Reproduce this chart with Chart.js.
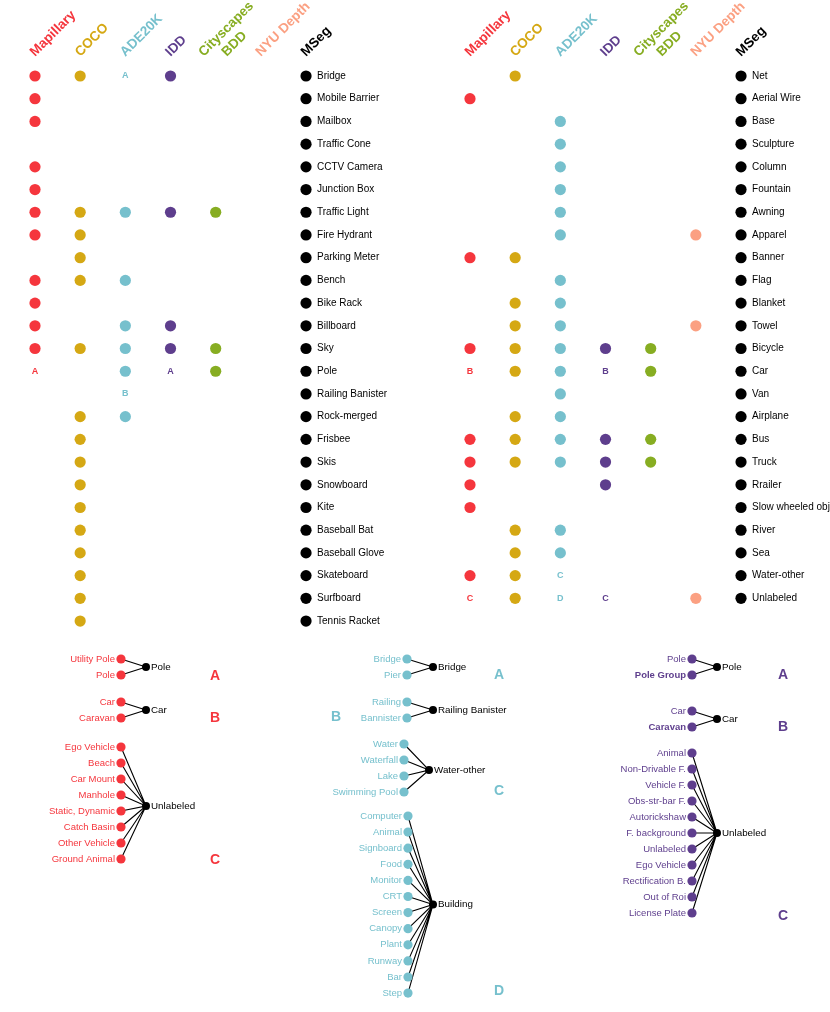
<!DOCTYPE html>
<html>
<head>
<meta charset="utf-8">
<script src="https://cdn.jsdelivr.net/npm/chart.js@4.4.1/dist/chart.umd.min.js"></script>
<style>
  html, body { margin: 0; padding: 0; background: #fff; }
  canvas { display: block; }
</style>
</head>
<body>
<canvas id="mseg" width="830" height="1012"></canvas>
<script>
//* MSeg taxonomy: which source dataset classes go into each MSeg class */

// columns, left to right (MSeg is the last one)
const sourceNames = ['Mapillary', 'COCO', 'ADE20K', 'IDD', 'Cityscapes\nBDD', 'NYU Depth', 'MSeg']
const sourceColors = ['#f5363d', '#d5a814', '#76c0cd', '#5e3e8d', '#87ad22', '#fba082', '#000000']

// MSeg classes in the two panels
const leftClasses = ['Bridge', 'Mobile Barrier', 'Mailbox', 'Traffic Cone', 'CCTV Camera', 'Junction Box',
  'Traffic Light', 'Fire Hydrant', 'Parking Meter', 'Bench', 'Bike Rack', 'Billboard', 'Sky', 'Pole',
  'Railing Banister', 'Rock-merged', 'Frisbee', 'Skis', 'Snowboard', 'Kite', 'Baseball Bat',
  'Baseball Glove', 'Skateboard', 'Surfboard', 'Tennis Racket']
const rightClasses = ['Net', 'Aerial Wire', 'Base', 'Sculpture', 'Column', 'Fountain', 'Awning', 'Apparel',
  'Banner', 'Flag', 'Blanket', 'Towel', 'Bicycle', 'Car', 'Van', 'Airplane', 'Bus', 'Truck', 'Rrailer',
  'Slow wheeled obj', 'River', 'Sea', 'Water-other', 'Unlabeled']

// 1 = class present, letter = merged class (see trees below), 0 = absent
// order: Mapillary, COCO, ADE20K, IDD, Cityscapes/BDD, NYU Depth
const leftMembers = [
  [1, 1, 'A', 1, 0, 0], // Bridge
  [1, 0, 0, 0, 0, 0],
  [1, 0, 0, 0, 0, 0],
  [0, 0, 0, 0, 0, 0],
  [1, 0, 0, 0, 0, 0],
  [1, 0, 0, 0, 0, 0],
  [1, 1, 1, 1, 1, 0], // Traffic Light
  [1, 1, 0, 0, 0, 0],
  [0, 1, 0, 0, 0, 0],
  [1, 1, 1, 0, 0, 0], // Bench
  [1, 0, 0, 0, 0, 0],
  [1, 0, 1, 1, 0, 0],
  [1, 1, 1, 1, 1, 0], // Sky
  ['A', 0, 1, 'A', 1, 0], // Pole
  [0, 0, 'B', 0, 0, 0],
  [0, 1, 1, 0, 0, 0],
  [0, 1, 0, 0, 0, 0], // Frisbee
  [0, 1, 0, 0, 0, 0],
  [0, 1, 0, 0, 0, 0],
  [0, 1, 0, 0, 0, 0],
  [0, 1, 0, 0, 0, 0],
  [0, 1, 0, 0, 0, 0],
  [0, 1, 0, 0, 0, 0],
  [0, 1, 0, 0, 0, 0],
  [0, 1, 0, 0, 0, 0] // Tennis Racket
]
const rightMembers = [
  [0, 1, 0, 0, 0, 0], // Net
  [1, 0, 0, 0, 0, 0],
  [0, 0, 1, 0, 0, 0],
  [0, 0, 1, 0, 0, 0],
  [0, 0, 1, 0, 0, 0],
  [0, 0, 1, 0, 0, 0],
  [0, 0, 1, 0, 0, 0], // Awning
  [0, 0, 1, 0, 0, 1],
  [1, 1, 0, 0, 0, 0],
  [0, 0, 1, 0, 0, 0],
  [0, 1, 1, 0, 0, 0],
  [0, 1, 1, 0, 0, 1], // Towel
  [1, 1, 1, 1, 1, 0],
  ['B', 1, 1, 'B', 1, 0], // Car
  [0, 0, 1, 0, 0, 0],
  [0, 1, 1, 0, 0, 0],
  [1, 1, 1, 1, 1, 0], // Bus
  [1, 1, 1, 1, 1, 0],
  [1, 0, 0, 1, 0, 0],
  [1, 0, 0, 0, 0, 0],
  [0, 1, 1, 0, 0, 0], // River
  [0, 1, 1, 0, 0, 0],
  [1, 1, 'C', 0, 0, 0],
  ['C', 1, 'D', 'C', 0, 1] // Unlabeled
]

// merge trees: source classes -> MSeg class
const mapillaryTargets = ['Pole', 'Car', 'Unlabeled']
const mapillarySources = [
  ['Utility Pole', 'Pole'],
  ['Car', 'Caravan'],
  ['Ego Vehicle', 'Beach', 'Car Mount', 'Manhole', 'Static, Dynamic', 'Catch Basin', 'Other Vehicle', 'Ground Animal']
]
const adeTargets = ['Bridge', 'Railing Banister', 'Water-other', 'Building']
const adeSources = [
  ['Bridge', 'Pier'],
  ['Railing', 'Bannister'],
  ['Water', 'Waterfall', 'Lake', 'Swimming Pool'],
  ['Computer', 'Animal', 'Signboard', 'Food', 'Monitor', 'CRT', 'Screen', 'Canopy', 'Plant', 'Runway', 'Bar', 'Step']
]
const iddTargets = ['Pole', 'Car', 'Unlabeled']
const iddSources = [
  ['Pole', 'Pole Group'],
  ['Car', 'Caravan'],
  ['Animal', 'Non-Drivable F.', 'Vehicle F.', 'Obs-str-bar F.', 'Autorickshaw', 'F. background', 'Unlabeled',
    'Ego Vehicle', 'Rectification B.', 'Out of Roi', 'License Plate']
]
const treeLetters = ['A', 'B', 'C', 'D']

// ---- layout (canvas units, y going down) ----
const panelX = [35, 470]
const colStep = 45.17
const rowTop = 76
const rowStep = 22.71
const headerY = 57
const boldSources = ['Pole Group', 'Caravan']

const trees = [
  { color: sourceColors[0], targets: mapillaryTargets, sources: mapillarySources,
    groups: [
      { top: 659, leafX: 121, nodeX: 146, letterX: 215, letterY: 676 },
      { top: 702, leafX: 121, nodeX: 146, letterX: 215, letterY: 718 },
      { top: 747, leafX: 121, nodeX: 146, letterX: 215, letterY: 860, nodeDy: 3 }
    ] },
  { color: sourceColors[2], targets: adeTargets, sources: adeSources,
    groups: [
      { top: 659, leafX: 407, nodeX: 433, letterX: 499, letterY: 675 },
      { top: 702, leafX: 407, nodeX: 433, letterX: 336, letterY: 717 },
      { top: 744, leafX: 404, nodeX: 429, letterX: 499, letterY: 791, nodeDy: 2 },
      { top: 816, leafX: 408, nodeX: 433, letterX: 499, letterY: 991, step: 16.1 }
    ] },
  { color: sourceColors[3], targets: iddTargets, sources: iddSources,
    groups: [
      { top: 659, leafX: 692, nodeX: 717, letterX: 783, letterY: 675 },
      { top: 711, leafX: 692, nodeX: 717, letterX: 783, letterY: 727 },
      { top: 753, leafX: 692, nodeX: 717, letterX: 783, letterY: 916 }
    ] }
]

const FONT = '"Liberation Sans", Arial, sans-serif'
let texts = []
let datasets = []

// matrix dots
let dotData = sourceNames.map(() => [])
const addPanel = (classes, members, p) => {
  classes.forEach((name, r) => {
    let y = rowTop + r * rowStep
    members[r].forEach((m, c) => {
      let x = panelX[p] + c * colStep
      if (m === 1) dotData[c].push({ x: x, y: y })
      else if (m) texts.push({ x: x, y: y, text: m, color: sourceColors[c], font: 'bold 9px ' + FONT, align: 'center' })
    })
    let mx = panelX[p] + 6 * colStep
    dotData[6].push({ x: mx, y: y })
    texts.push({ x: mx + 11, y: y, text: name, color: '#000', font: '10px ' + FONT, align: 'left' })
  })
  sourceNames.forEach((name, c) => {
    let lines = name.split('\n')
    let offs = lines.length > 1 ? [-12, 11] : [0]
    lines.forEach((line, i) => {
      texts.push({ x: panelX[p] + c * colStep + offs[i], y: headerY, text: line, color: sourceColors[c],
        font: 'bold 13.5px ' + FONT, align: 'left', rotate: -Math.PI / 4, baseline: 'alphabetic' })
    })
  })
}
addPanel(leftClasses, leftMembers, 0)
addPanel(rightClasses, rightMembers, 1)

sourceNames.forEach((name, c) => {
  datasets.push({ data: dotData[c], backgroundColor: sourceColors[c], pointRadius: 5.6, borderWidth: 0, order: 1 })
})

// trees
trees.forEach((t) => {
  let leaves = []
  let nodes = []
  t.sources.forEach((srcs, g) => {
    let lay = t.groups[g]
    let step = lay.step || 16
    let ys = srcs.map((s, i) => lay.top + i * step)
    let ny = (ys[0] + ys[ys.length - 1]) / 2 + (lay.nodeDy || 0)
    let edge = []
    srcs.forEach((s, i) => {
      leaves.push({ x: lay.leafX, y: ys[i] })
      edge.push({ x: lay.leafX, y: ys[i] }, { x: lay.nodeX, y: ny })
      texts.push({ x: lay.leafX - 6, y: ys[i], text: s, color: t.color,
        font: (boldSources.includes(s) && t.color === sourceColors[3] ? 'bold ' : '') + '9.5px ' + FONT, align: 'right' })
    })
    nodes.push({ x: lay.nodeX, y: ny })
    texts.push({ x: lay.nodeX + 5, y: ny, text: t.targets[g], color: '#000', font: '9.8px ' + FONT, align: 'left' })
    texts.push({ x: lay.letterX, y: lay.letterY, text: treeLetters[g], color: t.color, font: 'bold 14px ' + FONT, align: 'center' })
    datasets.push({ data: edge, showLine: true, borderColor: '#000', borderWidth: 1.1, pointRadius: 0, tension: 0, order: 3 })
  })
  datasets.push({ data: leaves, backgroundColor: t.color, pointRadius: 4.6, borderWidth: 0, order: 1 })
  datasets.push({ data: nodes, backgroundColor: '#000', pointRadius: 4, borderWidth: 0, order: 1 })
})

// text labels, placed through the chart scales
const labelPlugin = {
  id: 'labels',
  afterDatasetsDraw(chart) {
    let ctx = chart.ctx
    let sx = chart.scales.x
    let sy = chart.scales.y
    texts.forEach((t) => {
      ctx.save()
      ctx.translate(sx.getPixelForValue(t.x), sy.getPixelForValue(t.y))
      if (t.rotate) ctx.rotate(t.rotate)
      ctx.font = t.font
      ctx.fillStyle = t.color
      ctx.textAlign = t.align
      ctx.textBaseline = t.baseline || 'middle'
      ctx.fillText(t.text, 0, 0)
      ctx.restore()
    })
  }
}

datasets.forEach((d) => { d.clip = false })

new Chart('mseg', {
  type: 'scatter',
  data: { datasets: datasets },
  options: {
    responsive: false,
    animation: false,
    layout: { padding: 0, autoPadding: false },
    plugins: { legend: { display: false }, tooltip: { enabled: false } },
    scales: {
      x: { type: 'linear', min: 0, max: 830, display: false },
      y: { type: 'linear', min: 0, max: 1012, reverse: true, display: false }
    }
  },
  plugins: [labelPlugin]
})
</script>
</body>
</html>
